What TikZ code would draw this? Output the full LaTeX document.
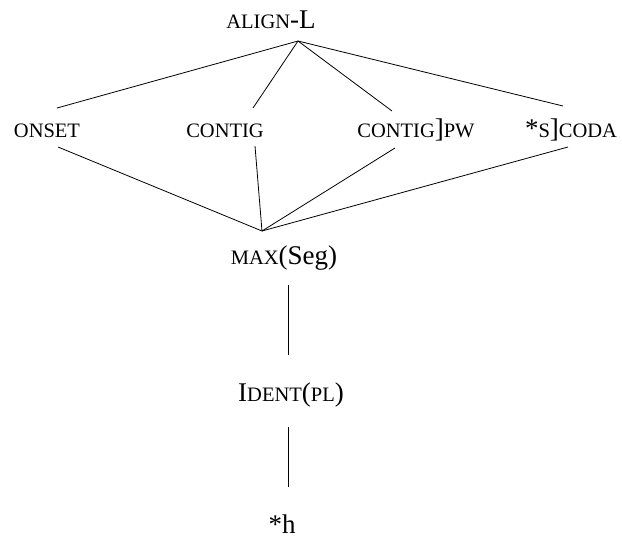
\documentclass[tikz,border=0pt]{standalone}
\usepackage{fontspec}
\setmainfont{Liberation Serif}
\newcommand{\smc}[1]{{\fontsize{20.5}{22}\selectfont #1}}
\begin{document}
\begin{tikzpicture}[x=1pt,y=-1pt,
  lbl/.style={anchor=base,inner sep=0pt,font=\fontsize{27}{30}\selectfont},
  link/.style={line width=0.8pt}]
\useasboundingbox (0,0) rectangle (622,539);
% labels
\node[lbl] (align) at (271,28) {\smc{ALIGN}-L};
\node[lbl] (onset) at (47,137) {\smc{ONSET}};
\node[lbl] (contig) at (225,137) {\smc{CONTIG}};
\node[lbl] (contigpw) at (416,137) {\smc{CONTIG}]\smc{PW}};
\node[lbl] (scoda) at (571,137) {*\smc{S}]\smc{CODA}};
\node[lbl] (max) at (284,264) {\smc{MAX}(Seg)};
\node[lbl] (ident) at (291,401) {I\smc{DENT}(\smc{PL})};
\node[lbl] (h) at (282,533) {*h};
% connector points
\coordinate (ta) at (298,41);
\coordinate (onT) at (57,108);
\coordinate (coT) at (253,108);
\coordinate (cpT) at (392,111);
\coordinate (scT) at (563,106);
\coordinate (onB) at (58,147);
\coordinate (coB) at (255,146);
\coordinate (cpB) at (395,148);
\coordinate (scB) at (568,147);
\coordinate (mt) at (262,231);
\coordinate (mb) at (288,285);
\coordinate (it) at (288,355);
\coordinate (ib) at (288,427);
\coordinate (ht) at (288,487);
% connectors
\draw[link] (ta) -- (onT);
\draw[link] (ta) -- (coT);
\draw[link] (ta) -- (cpT);
\draw[link] (ta) -- (scT);
\draw[link] (onB) -- (mt);
\draw[link] (coB) -- (mt);
\draw[link] (cpB) -- (mt);
\draw[link] (scB) -- (mt);
\draw[link] (mb) -- (it);
\draw[link] (ib) -- (ht);
\end{tikzpicture}
\end{document}
